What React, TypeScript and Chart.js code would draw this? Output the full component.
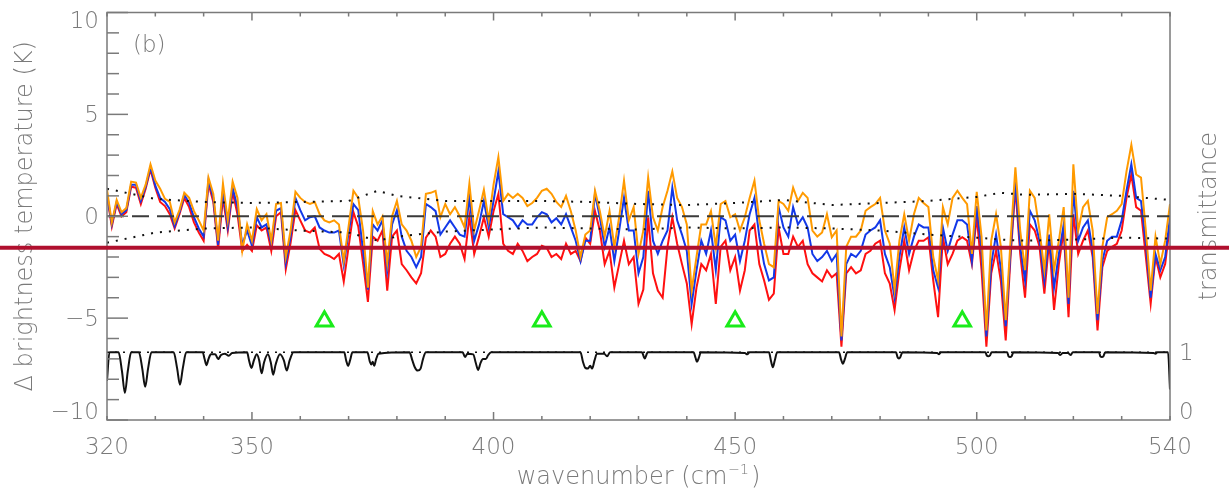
import { useEffect, useRef } from 'react';
import { Chart, registerables } from 'chart.js';

Chart.register(...registerables);

// ---------- data ----------
const WN_START = 320;
const WN_COUNT = 221;
const wavenumbers = Array.from({ length: WN_COUNT }, (_, i) => WN_START + i);

const orangeSeries = [
  1.3, -0.3, 0.8, 0.2, 0.4, 1.7, 1.65, 0.9, 1.55, 2.55,
  1.75, 1.35, 0.85, 0.7, -0.3, 0.3, 1.15, 0.9, 0.25, -0.2,
  -0.7, 1.9, 1.1, -1.2, 1.6, -0.2, 1.7, 0.9, -1.7, -0.4,
  -1.2, 0.35, -0.2, 0.1, -1.2, 0.6, 0.65, -2.0, -0.7, 1.2,
  0.9, 0.7, 0.6, 0.7, 0.1, -0.2, -0.3, -0.2, -0.4, -2.2,
  -0.5, 1.25, 0.9, -0.7, -3.5, 0.25, -0.4, 0.0, -2.3, 0.0,
  0.75, -0.4, -0.7, -1.2, -2.0, -1.5, 1.1, 1.15, 1.25, -0.05,
  0.6, 0.1, 0.45, 0.0, -0.55, 1.6, -0.7, 0.27, 1.3, -0.2,
  1.55, 2.9, 0.75, 1.1, 0.9, 1.1, 0.9, 0.5, 0.65, 0.9,
  1.25, 1.35, 1.1, 0.7, 0.45, 1.0, 0.25, -0.7, -2.0, -0.9,
  -0.7, 1.25, 0.25, -1.0, 0.25, -1.5, -0.05, 1.75, -0.2, 0.45,
  -1.85, -0.7, 1.9, -0.05, -0.7, 0.45, 1.25, 2.2, 0.9, 0.45,
  -0.4, -3.65, -2.0, -0.4, -0.4, 0.25, -1.5, 0.6, 0.75, -0.05,
  0.1, -0.7, -0.05, 0.9, 1.75, -0.2, -1.35, -2.35, -2.5, 0.75,
  0.6, 0.27, 1.4, 0.75, 1.15, 0.9, -0.7, -1.0, -0.8, 0.1,
  -1.03, -0.7, -5.9, -1.5, -1.0, -1.0, -0.7, 0.27, 0.45, 0.6,
  0.9, -0.7, -1.35, -3.6, -1.2, 0.1, -1.2, 0.1, 0.9, 0.65,
  0.45, -2.0, -3.15, 0.45, -0.4, 0.9, 1.25, 0.9, 0.6, -1.85,
  1.2, -1.0, -5.6, -1.2, 0.1, -1.5, -5.1, -1.2, 2.4, -0.7,
  -2.65, 1.25, 0.9, -0.7, -2.65, 0.1, -2.65, -1.2, 0.45, -4.0,
  2.55, -0.7, 0.45, 0.75, -0.7, -4.8, -1.5, -0.05, 0.1, 0.27,
  0.6, 2.2, 3.5, 2.05, 1.9, -0.7, -3.65, -1.0, -2.35, -1.2,
  0.6,
];

const blueSeries = [
  1.1, -0.4, 0.7, 0.1, 0.3, 1.55, 1.55, 0.75, 1.45, 2.4,
  1.5, 0.9, 0.7, 0.35, -0.5, 0.2, 1.05, 0.65, -0.05, -0.6,
  -1.0, 1.75, 0.9, -1.4, 1.25, -0.5, 1.4, 0.45, -1.4, -0.7,
  -1.45, -0.05, -0.55, -0.4, -1.35, 0.27, 0.4, -2.3, -1.0, 0.9,
  0.3, -0.2, -0.05, 0.0, -0.55, -0.7, -0.8, -0.8, -0.7, -2.4,
  -0.8, 0.6, 0.3, -1.7, -3.6, -0.4, -0.7, -0.2, -2.65, -0.4,
  0.3, -1.0, -1.7, -2.0, -2.5, -2.0, 0.6, 0.45, 0.25, -0.9,
  -0.55, -0.2, -0.55, -0.9, -1.0, 0.9, -1.2, -0.4, 0.75, -0.55,
  0.75, 2.2, 0.1, -0.05, -0.2, -0.55, -0.2, -0.4, -0.4, -0.05,
  0.2, 0.1, -0.3, -0.1, -0.4, 0.1, -0.55, -1.2, -2.2, -1.2,
  -1.2, 1.1, -0.05, -1.5, -0.55, -2.2, -0.7, 0.9, -0.7, -0.7,
  -2.8, -2.0, 1.25, -1.2, -1.85, -1.2, -0.7, 1.4, -0.2, -0.9,
  -1.7, -4.3, -2.65, -1.2, -1.85, -0.7, -2.65, -0.05, -0.2, -1.2,
  -0.9, -2.2, -1.2, 0.1, 0.9, -1.0, -2.35, -3.15, -3.0, 0.45,
  -0.55, -1.0, 0.45, -0.4, -0.05, -0.55, -1.85, -2.2, -2.0, -1.7,
  -2.2, -1.85, -6.1, -2.35, -1.85, -2.0, -1.7, -0.9, -0.7, -0.55,
  -0.2, -1.85, -2.5, -4.0, -2.0, -0.55, -1.85, -1.0, -0.4, -0.55,
  -0.55, -2.65, -3.5, -0.55, -1.7, -0.9, -0.2, -0.2, -0.4, -2.2,
  0.5, -1.7, -5.9, -2.35, -0.9, -2.6, -5.4, -1.7, 1.75, -1.5,
  -3.15, 0.27, -0.2, -1.2, -3.15, -0.9, -3.5, -1.85, -0.4, -4.3,
  1.25, -1.2, -0.55, -0.2, -1.7, -5.1, -2.2, -1.2, -1.0, -1.0,
  -0.2, 1.25, 2.55, 0.9, 0.75, -1.35, -4.0, -1.85, -2.65, -2.0,
  -0.05,
];

const redSeries = [
  1.0, -0.5, 0.6, 0.0, 0.2, 1.45, 1.4, 0.6, 1.35, 2.3,
  1.4, 0.7, 0.5, 0.1, -0.6, 0.1, 0.9, 0.45, -0.3, -0.8,
  -1.2, 1.6, 0.7, -1.6, 0.9, -0.7, 1.2, 0.1, -1.7, -1.4,
  -1.7, -0.45, -0.7, -0.55, -1.7, 0.0, 0.2, -2.6, -1.3, 0.3,
  -0.2, -0.7, -0.8, -0.55, -1.6, -1.85, -1.95, -2.1, -1.85, -3.2,
  -1.5, 0.2, -0.5, -2.3, -4.2, -1.0, -1.2, -0.7, -3.65, -1.0,
  -0.7, -2.35, -2.65, -3.0, -3.3, -2.8, -1.05, -0.7, -1.0, -2.0,
  -1.85, -1.35, -1.0, -1.35, -2.1, 0.0, -1.85, -1.0, -0.05, -1.0,
  0.25, 1.1, -1.35, -1.7, -1.85, -1.35, -1.7, -2.2, -2.0, -1.85,
  -1.45, -1.55, -2.0, -1.85, -2.1, -1.35, -1.85, -1.7, -2.2, -1.05,
  -1.35, 0.25, -0.7, -2.35, -1.7, -3.5, -2.35, -1.2, -2.35, -2.0,
  -4.3, -3.6, -0.05, -2.8, -3.65, -4.0, -1.5, -0.05, -1.35, -2.35,
  -3.3, -5.3, -3.5, -2.35, -2.65, -1.85, -4.3, -1.5, -1.2, -2.65,
  -2.0, -3.65, -2.65, -0.7, -0.4, -2.35, -3.15, -4.1, -3.8, -0.55,
  -1.85, -1.85, -1.0, -1.5, -1.2, -2.35, -2.8, -3.0, -3.2, -2.65,
  -3.0, -2.8, -6.4, -2.8, -2.5, -2.8, -2.65, -1.85, -1.7, -1.35,
  -1.2, -2.8, -3.3, -4.6, -2.65, -1.2, -2.65, -1.7, -1.2, -1.2,
  -1.03, -3.15, -4.95, -1.03, -2.35, -1.85, -1.2, -1.03, -1.2, -2.35,
  0.0, -2.65, -6.4, -2.8, -1.7, -3.2, -6.1, -2.0, 1.4, -1.85,
  -4.0, -0.4, -0.7, -1.5, -3.8, -1.2, -4.6, -2.35, -0.7, -4.95,
  0.1, -1.85, -1.2, -0.7, -2.0, -5.6, -2.5, -1.7, -1.5, -1.35,
  -0.7, 0.9, 2.05, 0.45, 0.27, -2.0, -4.3, -2.0, -3.0, -2.35,
  -0.4,
];

const envelopeWn = [320, 330, 340, 350, 360, 370, 376, 380, 390, 400, 410, 420, 430, 440, 450, 460, 470, 480, 490, 500, 505, 510, 520, 530, 540];
const upperEnvelope = [1.35, 0.85, 0.7, 0.65, 0.7, 0.75, 1.25, 1.0, 0.75, 0.75, 0.75, 0.7, 0.6, 0.55, 0.65, 0.8, 0.55, 0.65, 0.75, 0.95, 1.15, 1.05, 1.1, 1.0, 0.8];
const lowerEnvelope = [-1.3, -0.8, -0.6, -0.55, -0.7, -0.8, -1.2, -1.0, -0.75, -0.65, -0.55, -0.6, -0.65, -0.55, -0.6, -0.55, -0.6, -0.7, -0.9, -1.05, -1.15, -1.2, -1.15, -1.05, -1.1];

const zeroLineWn = [320, 540];
const zeroLineVal = [0, 0];

const transWn = [
  320, 320.5,
  322.4, 323.1, 323.7, 324.3, 325.0,
  326.6, 327.3, 327.9, 328.5, 329.2,
  333.8, 334.5, 335.1, 335.7, 336.4,
  339.8, 340.2, 340.6, 341.0, 341.5,
  342.4, 343.0, 343.6, 344.4, 345.2, 345.9,
  349.0, 349.4, 349.9, 350.4, 351.0,
  351.5, 352.0, 352.5, 353.3, 353.9, 354.4, 354.9, 355.8, 356.6, 357.2, 357.8, 358.6,
  369.1, 369.5, 369.9, 370.3, 370.8,
  373.9, 374.4, 374.7, 375.0, 375.3, 375.7, 376.2,
  382.6, 383.2, 383.7, 384.3, 384.9, 385.4, 386.0,
  393.6, 394.1, 394.6, 395.8, 396.3, 396.8, 397.3, 397.8, 398.4, 398.9, 399.5,
  418.0, 418.5, 419.0, 419.5, 420.0, 420.4, 420.9, 421.4,
  422.9, 423.5, 424.1,
  430.7, 431.3, 431.9,
  441.4, 441.8, 442.1, 442.5, 442.9,
  452.0, 452.5, 453.0,
  457.0, 457.4, 457.8, 458.2, 458.7,
  471.5, 471.9, 472.3, 472.7, 473.2,
  483.3, 483.6, 483.9, 484.2, 484.6,
  491.8, 492.2, 492.6,
  501.8, 502.1, 502.4, 502.7, 503.1,
  506.3, 506.6, 506.9, 507.2, 507.6,
  516.8, 517.3, 517.8, 518.9, 519.4, 519.9,
  525.3, 525.6, 525.9, 526.2, 526.6,
  536.6, 537.0, 537.4,
  539.6, 540,
];
const transVal = [
  0.58, 1.0,
  1.0, 0.72, 0.4, 0.72, 1.0,
  1.0, 0.76, 0.49, 0.76, 1.0,
  1.0, 0.77, 0.52, 0.77, 1.0,
  1.0, 0.9, 0.81, 0.9, 0.97,
  0.97, 0.9, 0.96, 0.98, 0.95, 0.99,
  1.0, 0.88, 0.77, 0.88, 0.97,
  0.88, 0.69, 0.85, 0.97, 0.85, 0.67, 0.82, 0.97, 0.88, 0.73, 0.88, 1.0,
  1.0, 0.88, 0.8, 0.88, 1.0,
  1.0, 0.86, 0.82, 0.86, 0.8, 0.9, 0.98,
  1.0, 0.88, 0.78, 0.73, 0.76, 0.9, 1.0,
  1.0, 0.93, 0.98, 0.97, 0.85, 0.74, 0.84, 0.9, 0.9, 0.96, 1.0,
  1.0, 0.86, 0.77, 0.76, 0.8, 0.76, 0.88, 0.98,
  0.98, 0.94, 1.0,
  1.0, 0.91, 1.0,
  1.0, 0.92, 0.86, 0.92, 1.0,
  0.99, 0.97, 1.0,
  1.0, 0.88, 0.78, 0.88, 1.0,
  1.0, 0.9, 0.83, 0.9, 1.0,
  1.0, 0.93, 0.91, 0.93, 1.0,
  0.99, 0.97, 1.0,
  1.0, 0.95, 0.94, 0.95, 1.0,
  1.0, 0.94, 0.93, 0.94, 1.0,
  0.99, 0.96, 0.99, 0.99, 0.96, 1.0,
  1.0, 0.94, 0.93, 0.94, 1.0,
  0.99, 0.98, 1.0,
  1.0, 0.45,
];
const transRefWn = [320, 540];
const transRefVal = [1, 1];

const triangleWn = [365, 410, 450, 497];
const triangleVal = [-5.15, -5.15, -5.15, -5.15];

const markerLineValue = -1.55;

const xTickLabels = [320, 350, 400, 450, 500, 540];
const yTickLabels = [10, 5, 0, -5, -10];
const y1TickLabels = [1, 0];

// ---------- helpers ----------
const pts = (xs: number[], ys: number[]) => xs.map((x, i) => ({ x, y: ys[i] }));

const FONT = '"DejaVu Sans", Verdana, sans-serif';
const TEXT_COLOR = '#7a7a7a';
const AXIS_COLOR = '#7a7a7a';

const fmt = (v: number) => (v < 0 ? '\u2212' + Math.abs(v) : String(v));

const decorPlugin = {
  id: 'decor',
  afterDatasetsDraw(chart: any) {
    const { ctx, chartArea } = chart;
    const { left, right, top, bottom } = chartArea;
    const xs = chart.scales.x;
    const ys = chart.scales.y;
    const y1 = chart.scales.y1;
    ctx.save();

    // frame
    ctx.strokeStyle = AXIS_COLOR;
    ctx.lineWidth = 1.5;
    ctx.strokeRect(left, top, right - left, bottom - top);

    // x ticks (bottom and top, inward)
    for (let v = 320; v <= 540; v += 10) {
      const px = xs.getPixelForValue(v);
      const len = v % 50 === 0 ? 8 : 4;
      ctx.beginPath();
      ctx.moveTo(px, bottom);
      ctx.lineTo(px, bottom - len);
      ctx.moveTo(px, top);
      ctx.lineTo(px, top + len);
      ctx.stroke();
    }
    // y ticks (left, inward)
    for (let v = -10; v <= 10; v += 1) {
      const py = ys.getPixelForValue(v);
      const len = v % 5 === 0 ? 21 : 12;
      ctx.beginPath();
      ctx.moveTo(left, py);
      ctx.lineTo(left + len, py);
      ctx.stroke();
    }

    // tick labels
    ctx.fillStyle = TEXT_COLOR;
    ctx.font = `200 23px ${FONT}`;
    ctx.textBaseline = 'middle';
    ctx.textAlign = 'center';
    xTickLabels.forEach((v) => {
      ctx.fillText(String(v), xs.getPixelForValue(v), bottom + 28);
    });
    ctx.textAlign = 'right';
    yTickLabels.forEach((v) => {
      let py = ys.getPixelForValue(v) + 2;
      if (v === 10) py = top + 10;
      if (v === -10) py = bottom - 7;
      ctx.fillText(fmt(v), left - 8, py);
    });
    ctx.textAlign = 'left';
    y1TickLabels.forEach((v) => {
      let py = y1.getPixelForValue(v) + 2;
      if (v === 0) py = bottom - 7;
      ctx.fillText(String(v), right + 9, py);
    });

    // axis titles
    ctx.font = `200 24px ${FONT}`;
    const cx = (left + right) / 2;
    const ty = bottom + 58;
    const main = 'wavenumber (cm';
    const sup = '\u22121';
    const close = ')';
    const wMain = ctx.measureText(main).width;
    ctx.font = `200 14px ${FONT}`;
    const wSup = ctx.measureText(sup).width;
    ctx.font = `200 24px ${FONT}`;
    const wClose = ctx.measureText(close).width;
    let sx = cx - (wMain + wSup + wClose + 3) / 2;
    ctx.textAlign = 'left';
    ctx.fillText(main, sx, ty);
    sx += wMain;
    ctx.font = `200 14px ${FONT}`;
    ctx.fillText(sup, sx + 1, ty - 8);
    sx += wSup + 3;
    ctx.font = `200 24px ${FONT}`;
    ctx.fillText(close, sx, ty);

    // left title
    ctx.textAlign = 'center';
    ctx.save();
    ctx.translate(26, (top + bottom) / 2);
    ctx.rotate(-Math.PI / 2);
    ctx.fillText('\u0394 brightness temperature (K)', 0, 0);
    ctx.restore();
    // right title
    ctx.save();
    ctx.translate(1210, (top + bottom) / 2);
    ctx.rotate(-Math.PI / 2);
    ctx.fillText('transmittance', 0, 0);
    ctx.restore();

    // panel label
    ctx.textAlign = 'left';
    ctx.font = `200 23px ${FONT}`;
    ctx.fillText('(b)', left + 26, top + 34);

    ctx.restore();
  },
  afterDraw(chart: any) {
    const { ctx, width } = chart;
    const py = chart.scales.y.getPixelForValue(markerLineValue);
    ctx.save();
    ctx.strokeStyle = '#b0102e';
    ctx.lineWidth = 4;
    ctx.beginPath();
    ctx.moveTo(0, py);
    ctx.lineTo(width, py);
    ctx.stroke();
    ctx.restore();
  },
};

export default function App() {
  const canvasRef = useRef<HTMLCanvasElement | null>(null);

  useEffect(() => {
    const canvas = canvasRef.current;
    if (!canvas) return;
    const lineDs = (label: string, data: any, color: string, extra: any = {}) => ({
      type: 'line',
      label,
      data,
      borderColor: color,
      backgroundColor: color,
      borderWidth: 2,
      pointRadius: 0,
      tension: 0,
      fill: false,
      ...extra,
    });
    const chart = new Chart(canvas, {
      type: 'line',
      data: {
        datasets: [
          lineDs('zero', pts(zeroLineWn, zeroLineVal), '#3a3a3a', { borderDash: [17, 8], borderWidth: 2 }),
          lineDs('upper', pts(envelopeWn, upperEnvelope), '#111', { borderDash: [2, 7], borderWidth: 2 }),
          lineDs('lower', pts(envelopeWn, lowerEnvelope), '#111', { borderDash: [2, 7], borderWidth: 2 }),
          lineDs('orange', pts(wavenumbers, orangeSeries), '#ff9a00'),
          lineDs('blue', pts(wavenumbers, blueSeries), '#1238e8'),
          lineDs('red', pts(wavenumbers, redSeries), '#ff1010'),
          lineDs('transRef', pts(transRefWn, transRefVal), '#111', { yAxisID: 'y1', borderDash: [2, 6], borderWidth: 1.5 }),
          lineDs('transmittance', pts(transWn, transVal), '#111', { yAxisID: 'y1', borderWidth: 2, cubicInterpolationMode: 'monotone' }),
          {
            type: 'line',
            label: 'markers',
            data: pts(triangleWn, triangleVal),
            showLine: false,
            pointStyle: 'triangle',
            pointRadius: 9.5,
            pointBorderWidth: 3,
            pointBorderColor: '#1aeb1a',
            pointBackgroundColor: 'rgba(0,0,0,0)',
            borderColor: '#1aeb1a',
            backgroundColor: 'rgba(0,0,0,0)',
          },
        ] as any,
      },
      options: {
        responsive: false,
        animation: false,
        devicePixelRatio: 1,
        layout: { padding: { left: 107, right: 59, top: 11, bottom: 74 } },
        plugins: { legend: { display: false }, tooltip: { enabled: false } },
        scales: {
          x: { type: 'linear', min: 320, max: 540, display: false },
          y: { type: 'linear', min: -10, max: 10, display: false },
          y1: { type: 'linear', min: 0, max: 6.02, display: false, position: 'right' },
        },
      } as any,
      plugins: [decorPlugin as any],
    });
    return () => chart.destroy();
  }, []);

  return (
    <div style={{ position: 'absolute', left: 0, top: 0, width: 1229, height: 494, background: '#fff' }}>
      <canvas ref={canvasRef} width={1229} height={494} style={{ width: 1229, height: 494, display: 'block' }} />
    </div>
  );
}
